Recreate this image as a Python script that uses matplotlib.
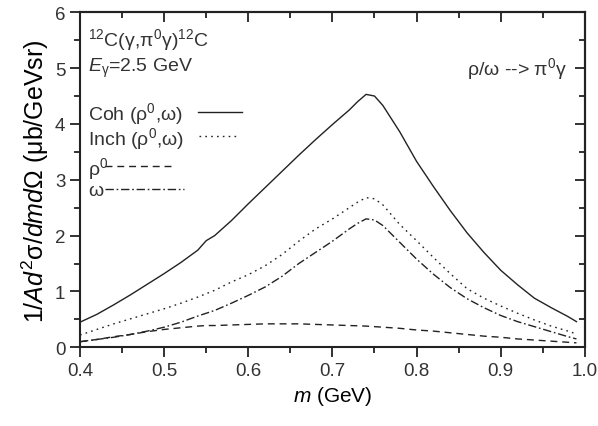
import numpy as np
import matplotlib
matplotlib.use("Agg")
import matplotlib.pyplot as plt
from matplotlib.ticker import MultipleLocator

plt.rcParams["font.family"] = ["Liberation Sans", "DejaVu Sans"]
plt.rcParams["mathtext.fontset"] = "custom"
plt.rcParams["mathtext.rm"] = "Liberation Sans"
plt.rcParams["mathtext.it"] = "Liberation Sans:italic"
plt.rcParams["text.color"] = "#333333"

# invariant mass m (GeV)
mass = [0.40, 0.42, 0.44, 0.46, 0.48, 0.50, 0.52, 0.54, 0.55, 0.56, 0.58, 0.60,
        0.62, 0.64, 0.66, 0.68, 0.70, 0.72, 0.73, 0.74, 0.75, 0.76, 0.78, 0.80,
        0.82, 0.84, 0.86, 0.88, 0.90, 0.92, 0.94, 0.96, 0.98, 0.99]

coh = [0.45, 0.59, 0.76, 0.94, 1.13, 1.32, 1.52, 1.74, 1.91, 2.00, 2.27, 2.57,
       2.86, 3.15, 3.44, 3.72, 3.99, 4.25, 4.40, 4.53, 4.50, 4.33, 3.86, 3.33,
       2.88, 2.45, 2.05, 1.70, 1.38, 1.12, 0.88, 0.71, 0.55, 0.46]

inch = [0.22, 0.32, 0.42, 0.51, 0.60, 0.69, 0.79, 0.90, 0.96, 1.02, 1.17, 1.30,
        1.46, 1.66, 1.90, 2.12, 2.30, 2.50, 2.60, 2.68, 2.66, 2.55, 2.20, 1.91,
        1.61, 1.32, 1.05, 0.88, 0.74, 0.61, 0.49, 0.38, 0.29, 0.24]

rho = [0.10, 0.14, 0.19, 0.23, 0.28, 0.32, 0.35, 0.38, 0.39, 0.39, 0.40, 0.41,
       0.42, 0.42, 0.42, 0.41, 0.40, 0.39, 0.385, 0.38, 0.37, 0.36, 0.34, 0.31,
       0.29, 0.26, 0.23, 0.20, 0.18, 0.15, 0.13, 0.11, 0.09, 0.08]

omega = [0.10, 0.14, 0.18, 0.23, 0.29, 0.36, 0.45, 0.56, 0.61, 0.66, 0.79, 0.93,
         1.08, 1.27, 1.50, 1.70, 1.90, 2.12, 2.22, 2.30, 2.28, 2.18, 1.88, 1.58,
         1.31, 1.07, 0.87, 0.71, 0.57, 0.46, 0.37, 0.28, 0.19, 0.15]

INK = "#222222"
DASHES = {"coh": None, "inch": (1.2, 3.0), "rho": (5.0, 3.5), "omega": (6.0, 2.0, 1.2, 2.0)}

fig = plt.figure(figsize=(5.98, 4.27), dpi=100)
ax = fig.add_axes([0.1338, 0.1843, 0.8442, 0.7846])


def _line(x, y, key, **kw):
    ln, = ax.plot(x, y, color=INK, linewidth=1.0, **kw)
    if DASHES[key] is not None:
        ln.set_dashes(DASHES[key])
    return ln


_line(mass, coh, "coh")
_line(mass, inch, "inch")
_line(mass, rho, "rho")
_line(mass, omega, "omega")

ax.set_xlim(0.4, 1.0)
ax.set_ylim(0, 6)
ax.xaxis.set_major_locator(MultipleLocator(0.1))
ax.xaxis.set_minor_locator(MultipleLocator(0.05))
ax.yaxis.set_major_locator(MultipleLocator(1))
ax.yaxis.set_minor_locator(MultipleLocator(0.5))
ax.xaxis.set_major_formatter(matplotlib.ticker.FormatStrFormatter("%.1f"))

for s in ax.spines.values():
    s.set_linewidth(1.5)
    s.set_color(INK)

ax.tick_params(which="both", direction="out", top=False, right=False,
               colors=INK, labelcolor="#333333", labelsize=13.5, width=1.3)
ax.tick_params(which="major", length=7)
ax.tick_params(which="minor", length=4)

# inward ticks on top and right
ax_top = ax.secondary_xaxis("top")
ax_top.xaxis.set_major_locator(MultipleLocator(0.1))
ax_top.xaxis.set_minor_locator(MultipleLocator(0.05))
ax_top.tick_params(which="both", direction="in", labeltop=False, colors=INK, width=1.3)
ax_top.tick_params(which="major", length=7)
ax_top.tick_params(which="minor", length=4)
ax_top.spines["top"].set_linewidth(1.5)
ax_right = ax.secondary_yaxis("right")
ax_right.yaxis.set_major_locator(MultipleLocator(1))
ax_right.yaxis.set_minor_locator(MultipleLocator(0.5))
ax_right.tick_params(which="both", direction="in", labelright=False, colors=INK, width=1.3)
ax_right.tick_params(which="major", length=7)
ax_right.tick_params(which="minor", length=4)
ax_right.spines["right"].set_linewidth(1.5)

ax.set_xlabel("$m$ (GeV)", fontsize=15, labelpad=4)
ax.set_ylabel("1/$Ad^2$σ/$dmd$Ω (μb/GeVsr)", fontsize=18, labelpad=3)

ax.text(0.016, 0.92, "$^{12}$C(γ,π$^0$γ)$^{12}$C", transform=ax.transAxes,
        fontsize=14, va="center", ha="left")
ax.text(0.016, 0.835, "$E_\\mathrm{γ}$=2.5 GeV", transform=ax.transAxes,
        fontsize=14, va="center", ha="left")
ax.text(0.966, 0.835, "ρ/ω --> π$^0$γ", transform=ax.transAxes,
        fontsize=14, va="center", ha="right")

# hand-placed legend, sample line after each label
legend_rows = [
    ("Coh (ρ$^0$,ω)", "coh", 0.698, 0.234, 0.321),
    ("Inch (ρ$^0$,ω)", "inch", 0.626, 0.236, 0.311),
    ("ρ$^0$", "rho", 0.536, 0.050, 0.188),
    ("ω", "omega", 0.468, 0.050, 0.206),
]
for label, key, yy, x0, x1 in legend_rows:
    ax.text(0.016, yy, label, transform=ax.transAxes, fontsize=14,
            va="center", ha="left")
    ln, = ax.plot([x0, x1], [yy + 0.004, yy + 0.004], transform=ax.transAxes,
                  color=INK, linewidth=1.0, clip_on=False)
    if DASHES[key] is not None:
        ln.set_dashes(DASHES[key])

fig.savefig("out.png", dpi=100)
